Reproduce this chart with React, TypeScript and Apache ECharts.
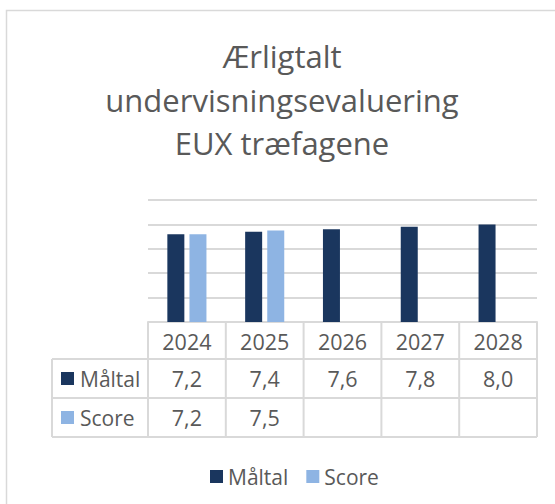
import React, { useEffect, useRef } from "react";
import * as echarts from "echarts";

const categories = ["2024", "2025", "2026", "2027", "2028"];
const maltal = [7.2, 7.4, 7.6, 7.8, 8.0];
const score: (number | null)[] = [7.2, 7.5, null, null, null];
const seriesNames = ["Måltal", "Score"];
const titleLines = ["Ærligtalt", "undervisningsevaluering", "EUX træfagene"];
const yMin = 0;
const yMax = 10;
const yInterval = 2;

const COLORS = ["#1a365e", "#8eb4e3"];
const TEXT = "#595959";
const LINE = "#d9d9d9";
const FONT = "'Open Sans', sans-serif";

const fmt = (v: number | null) => (v == null ? "" : v.toFixed(1).replace(".", ","));

export default function App() {
  const ref = useRef<HTMLDivElement>(null);
  useEffect(() => {
    document.body.style.margin = "0";
    const chart = echarts.init(ref.current!, null, { renderer: "svg" });
    chart.setOption({
      animation: false,
      textStyle: { fontFamily: FONT },
      grid: { left: 148, top: 200, width: 389, height: 122, containLabel: false },
      legend: {
        data: seriesNames,
        icon: "rect",
        itemWidth: 13,
        itemHeight: 13,
        itemGap: 18,
        left: 205,
        top: 461,
        textStyle: { fontSize: 21, color: TEXT, fontFamily: FONT },
      },
      xAxis: {
        type: "category",
        data: categories,
        axisLine: { show: true, lineStyle: { color: LINE, width: 2 } },
        axisTick: { show: false },
        axisLabel: { show: true, fontSize: 21.5, color: TEXT, margin: 8, fontFamily: FONT },
      },
      yAxis: {
        type: "value",
        min: yMin,
        max: yMax,
        interval: yInterval,
        axisLabel: { show: false },
        axisLine: { show: false },
        axisTick: { show: false },
        splitLine: { lineStyle: { color: LINE, width: 2 } },
      },
      series: [
        {
          name: seriesNames[0],
          type: "bar",
          data: maltal,
          barWidth: 17,
          barGap: "30%",
          itemStyle: { color: COLORS[0] },
        },
        {
          name: seriesNames[1],
          type: "bar",
          data: score,
          barWidth: 17,
          itemStyle: { color: COLORS[1] },
        },
      ],
    });

    const xs = categories.map((c) => chart.convertToPixel({ xAxisIndex: 0 }, c) as number);
    const band = xs[1] - xs[0];
    const y0 = chart.convertToPixel({ yAxisIndex: 0 }, yMin) as number;
    const left = xs[0] - band / 2;
    const right = xs[xs.length - 1] + band / 2;
    const rowTops = [y0, y0 + 37, y0 + 76, y0 + 115];
    const labelLeft = 52;
    const g: any[] = [];
    // outer chart border
    g.push({ type: "rect", shape: { x: 6.5, y: 10.5, width: 700, height: 700 }, style: { fill: "none", stroke: LINE, lineWidth: 1.5 }, silent: true });
    // titles
    const titleY = [56, 100, 143];
    titleLines.forEach((t, i) =>
      g.push({ type: "text", x: 282, y: titleY[i], style: { text: t, fontSize: 31, fontFamily: FONT, fill: TEXT, align: "center", verticalAlign: "middle" } })
    );
    // vertical lines
    for (let i = 0; i <= categories.length; i++) {
      const x = left + band * i;
      g.push({ type: "line", shape: { x1: x, y1: rowTops[0], x2: x, y2: rowTops[3] }, style: { stroke: LINE, lineWidth: 2 } });
    }
    g.push({ type: "line", shape: { x1: labelLeft, y1: rowTops[1], x2: labelLeft, y2: rowTops[3] }, style: { stroke: LINE, lineWidth: 2 } });
    for (let r = 1; r <= 3; r++) {
      g.push({ type: "line", shape: { x1: labelLeft, y1: rowTops[r], x2: right, y2: rowTops[r] }, style: { stroke: LINE, lineWidth: 2 } });
    }
    const rows = [maltal as (number | null)[], score];
    rows.forEach((vals, r) => {
      const cy = (rowTops[r + 1] + rowTops[r + 2]) / 2;
      g.push({ type: "rect", shape: { x: 61, y: cy - 6.5, width: 13, height: 13 }, style: { fill: COLORS[r] } });
      g.push({ type: "text", x: 80, y: cy, style: { text: seriesNames[r], fontSize: 21, fontFamily: FONT, fill: TEXT, align: "left", verticalAlign: "middle" } });
      vals.forEach((v, i) => {
        g.push({ type: "text", x: xs[i], y: cy, style: { text: fmt(v), fontSize: 21.5, fontFamily: FONT, fill: TEXT, align: "center", verticalAlign: "middle" } });
      });
    });
    chart.setOption({ graphic: g });
    return () => chart.dispose();
  }, []);
  return <div ref={ref} style={{ width: 555, height: 504 }} />;
}
